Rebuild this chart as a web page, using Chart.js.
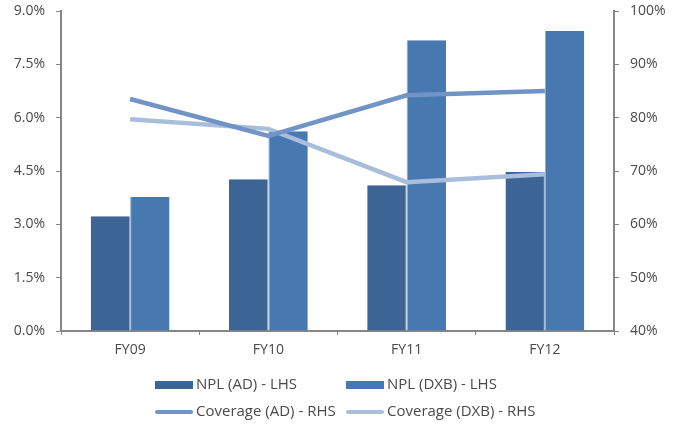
<!DOCTYPE html>
<html>
<head>
<meta charset="utf-8">
<script src="https://cdn.jsdelivr.net/npm/chart.js@4/dist/chart.umd.min.js"></script>
<style>
  html, body { margin: 0; padding: 0; background: #fff; }
  #wrap { width: 679px; height: 428px; position: relative; }
</style>
</head>
<body>
<div id="wrap"><canvas id="chart"></canvas></div>
<script>
const categories = ['FY09', 'FY10', 'FY11', 'FY12'];
const nplAD = [3.23, 4.27, 4.10, 4.47];
const nplDXB = [3.77, 5.62, 8.18, 8.44];
const coverageAD = [83.5, 76.6, 84.2, 85.0];
const coverageDXB = [79.7, 77.9, 67.9, 69.4];
const leftTicks = [0, 1.5, 3, 4.5, 6, 7.5, 9];
const rightTicks = [40, 50, 60, 70, 80, 90, 100];

const axisColor = '#868686';
const textColor = '#4a4a4a';
const fontFamily = '"Open Sans", "Noto Sans", sans-serif';

// legend drawn as a 2x2 grid like the original
const gridLegend = {
  id: 'gridLegend',
  afterDraw(chart) {
    const ctx = chart.ctx;
    const cols = [155, 346];
    const rows = [385, 412];
    ctx.save();
    ctx.font = '15px ' + fontFamily;
    ctx.textBaseline = 'middle';
    chart.data.datasets.forEach((ds, i) => {
      const x = cols[i % 2];
      const y = rows[Math.floor(i / 2)];
      if (ds.type === 'line') {
        ctx.strokeStyle = ds.borderColor;
        ctx.lineWidth = 4;
        ctx.lineCap = 'round';
        ctx.beginPath();
        ctx.moveTo(x + 2, y);
        ctx.lineTo(x + 36, y);
        ctx.stroke();
      } else {
        ctx.fillStyle = ds.backgroundColor;
        ctx.fillRect(x, y - 4, 38, 8);
      }
      ctx.fillStyle = textColor;
      ctx.fillText(ds.label, x + 41, y);
    });
    ctx.restore();
  }
};

const tickFont = { family: fontFamily, size: 14 };

function fixWidth(w) {
  return scale => {
    scale.width = w;
    scale.paddingTop = 0;
    scale.paddingBottom = 0;
  };
}

new Chart(document.getElementById('chart'), {
  type: 'bar',
  data: {
    labels: categories,
    datasets: [
      {
        label: 'NPL (AD) - LHS',
        data: nplAD,
        backgroundColor: '#3C6495',
        borderColor: '#8FA8CC',
        borderWidth: { right: 1 },
        yAxisID: 'y',
        order: 2,
        barPercentage: 1,
        categoryPercentage: 0.57
      },
      {
        label: 'NPL (DXB) - LHS',
        data: nplDXB,
        backgroundColor: '#4878B0',
        borderColor: '#8FA8CC',
        borderWidth: { left: 1 },
        yAxisID: 'y',
        order: 2,
        barPercentage: 1,
        categoryPercentage: 0.57
      },
      {
        type: 'line',
        label: 'Coverage (AD) - RHS',
        data: coverageAD,
        borderColor: '#7293C5',
        borderWidth: 4.5,
        pointRadius: 0,
        yAxisID: 'y1',
        order: 0
      },
      {
        type: 'line',
        label: 'Coverage (DXB) - RHS',
        data: coverageDXB,
        borderColor: '#A9BEDB',
        borderWidth: 4.5,
        pointRadius: 0,
        yAxisID: 'y1',
        order: 1
      }
    ]
  },
  options: {
    responsive: true,
    maintainAspectRatio: false,
    animation: false,
    layout: { padding: { top: 11, bottom: 62, left: 0, right: 0 } },
    plugins: {
      legend: { display: false },
      tooltip: { enabled: false }
    },
    scales: {
      x: {
        grid: { drawOnChartArea: false, offset: true, tickLength: 4, color: axisColor, lineWidth: 1 },
        border: { color: axisColor, width: 2 },
        ticks: { color: textColor, font: tickFont, padding: 7 },
        afterFit(scale) { scale.height = 35; }
      },
      y: {
        position: 'left',
        min: 0,
        max: 9,
        afterBuildTicks(scale) { scale.ticks = leftTicks.map(v => ({ value: v })); },
        grid: { drawOnChartArea: false, tickLength: 5, color: axisColor, lineWidth: 1 },
        border: { color: axisColor, width: 2 },
        ticks: {
          color: textColor,
          font: tickFont,
          padding: 11,
          callback: v => v.toFixed(1) + '%'
        },
        afterFit: fixWidth(61)
      },
      y1: {
        position: 'right',
        min: 40,
        max: 100,
        afterBuildTicks(scale) { scale.ticks = rightTicks.map(v => ({ value: v })); },
        grid: { drawOnChartArea: false, tickLength: 5, color: axisColor, lineWidth: 1 },
        border: { color: axisColor, width: 2 },
        ticks: {
          color: textColor,
          font: tickFont,
          padding: 11,
          callback: v => v + '%'
        },
        afterFit: fixWidth(65)
      }
    }
  },
  plugins: [gridLegend]
});
</script>
</body>
</html>
